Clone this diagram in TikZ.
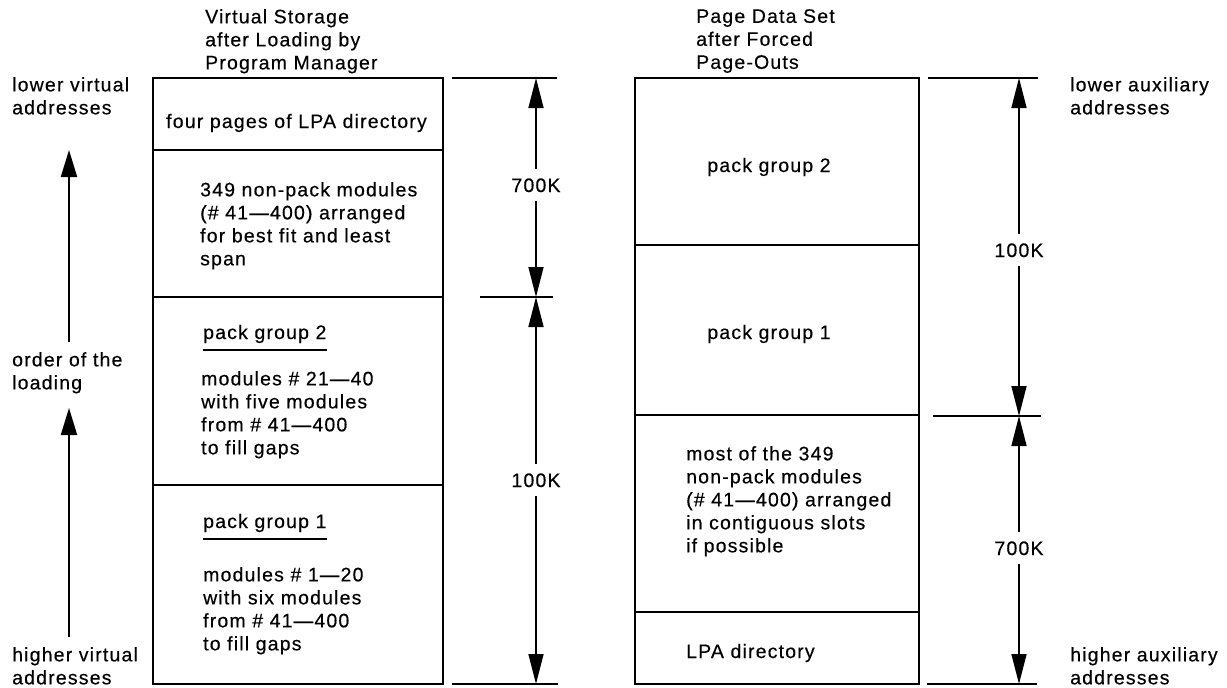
\documentclass[tikz,border=0pt]{standalone}
\usepackage{fontspec}
\setmainfont{Liberation Sans}[LetterSpace=6, FakeBold=0.35]
\usetikzlibrary{arrows.meta}
\begin{document}
\begin{tikzpicture}[x=1pt,y=-1pt,
  every node/.style={font=\fontsize{19.5}{23}\selectfont, inner sep=0pt},
  txt/.style={align=left, anchor=north west},
  boxline/.style={line width=2.2pt},
  dimline/.style={line width=1.5pt},
  tick/.style={line width=1.5pt},
  dimtip/.style={-{Triangle[length=30pt,width=15pt]}},
  ordtip/.style={line width=2pt,-{Triangle[length=27pt,width=16pt]}},
  uline/.style={line width=2pt},
  dimlabel/.style={inner ysep=9pt, inner xsep=2pt}]
\useasboundingbox (0,0) rectangle (1227,688);
\fill[white] (0,0) rectangle (1227,688);

% ---------- titles ----------
\node[txt] (t1) at (205,9) {Virtual Storage\\after Loading by\\Program Manager};
\node[txt] (t2) at (696,9) {Page Data Set\\after Forced\\Page-Outs};

% ---------- left side labels ----------
\node[txt] (lv) at (12,77) {lower virtual\\addresses};
\node[txt] (ord) at (12,352) {order of the\\loading};
\node[txt] (hv) at (12,647) {higher virtual\\addresses};
\coordinate (a1s) at (69,342); \coordinate (a1e) at (69,150);
\coordinate (a2s) at (69,637); \coordinate (a2e) at (69,408);
\draw[ordtip] (a1s) -- (a1e);
\draw[ordtip] (a2s) -- (a2e);

% ---------- left box ----------
\draw[boxline] (153,78) rectangle (443,684);
\draw[boxline] (153,150) -- (443,150);
\draw[boxline] (153,297) -- (443,297);
\draw[boxline] (153,485) -- (443,485);

\node[anchor=base west] (lpa4) at (166,128) {four pages of LPA directory};
\node[txt] (np) at (200,182) {349 non-pack modules\\(\# 41---400) arranged\\for best fit and least\\span};
\node[anchor=base west] (pg2) at (203,339) {pack group 2};
\draw[uline] ([yshift=-7pt]pg2.south west) -- ([yshift=-7pt]pg2.south east);
\node[txt] (m2) at (201,371) {modules \# 21---40\\with five modules\\from \# 41---400\\to fill gaps};
\node[anchor=base west] (pg1) at (203,528) {pack group 1};
\draw[uline] ([yshift=-7pt]pg1.south west) -- ([yshift=-7pt]pg1.south east);
\node[txt] (m1) at (203,567) {modules \# 1---20\\with six modules\\from \# 41---400\\to fill gaps};

% ---------- left dimensions ----------
\coordinate (lt) at (536,78);
\coordinate (lm) at (536,297);
\coordinate (lb) at (536,684);
\draw[tick] (452,78) -- (557,78);
\draw[tick] (480,297) -- (553,297);
\draw[tick] (452,684) -- (558,684);
\node[dimlabel, anchor=base] (l700) at (536,192) {700K};
\node[dimlabel, anchor=base] (l100) at (536,487) {100K};
\draw[dimline, dimtip] (l700.north) -- (lt);
\draw[dimline, dimtip] (l700.south) -- (lm);
\draw[dimline, dimtip] (l100.north) -- (lm);
\draw[dimline, dimtip] (l100.south) -- (lb);

% ---------- right box ----------
\draw[boxline] (635,78) rectangle (919,684);
\draw[boxline] (635,245) -- (919,245);
\draw[boxline] (635,415) -- (919,415);
\draw[boxline] (635,612) -- (919,612);

\node[anchor=base] (rpg2) at (769,172) {pack group 2};
\node[anchor=base] (rpg1) at (769,339) {pack group 1};
\node[txt] (most) at (686,446) {most of the 349\\non-pack modules\\(\# 41---400) arranged\\in contiguous slots\\if possible};
\node[anchor=base west] (rlpa) at (686,658) {LPA directory};

% ---------- right dimensions ----------
\coordinate (rt) at (1019,78);
\coordinate (rm) at (1019,416);
\coordinate (rb) at (1019,684);
\draw[tick] (928,78) -- (1038,78);
\draw[tick] (933,416) -- (1041,416);
\draw[tick] (927,684) -- (1037,684);
\node[dimlabel, anchor=base] (r100) at (1019,257) {100K};
\node[dimlabel, anchor=base] (r700) at (1019,555) {700K};
\draw[dimline, dimtip] (r100.north) -- (rt);
\draw[dimline, dimtip] (r100.south) -- (rm);
\draw[dimline, dimtip] (r700.north) -- (rm);
\draw[dimline, dimtip] (r700.south) -- (rb);

\node[txt] (la) at (1070,77) {lower auxiliary\\addresses};
\node[txt] (ha) at (1070,647) {higher auxiliary\\addresses};
\end{tikzpicture}
\end{document}
